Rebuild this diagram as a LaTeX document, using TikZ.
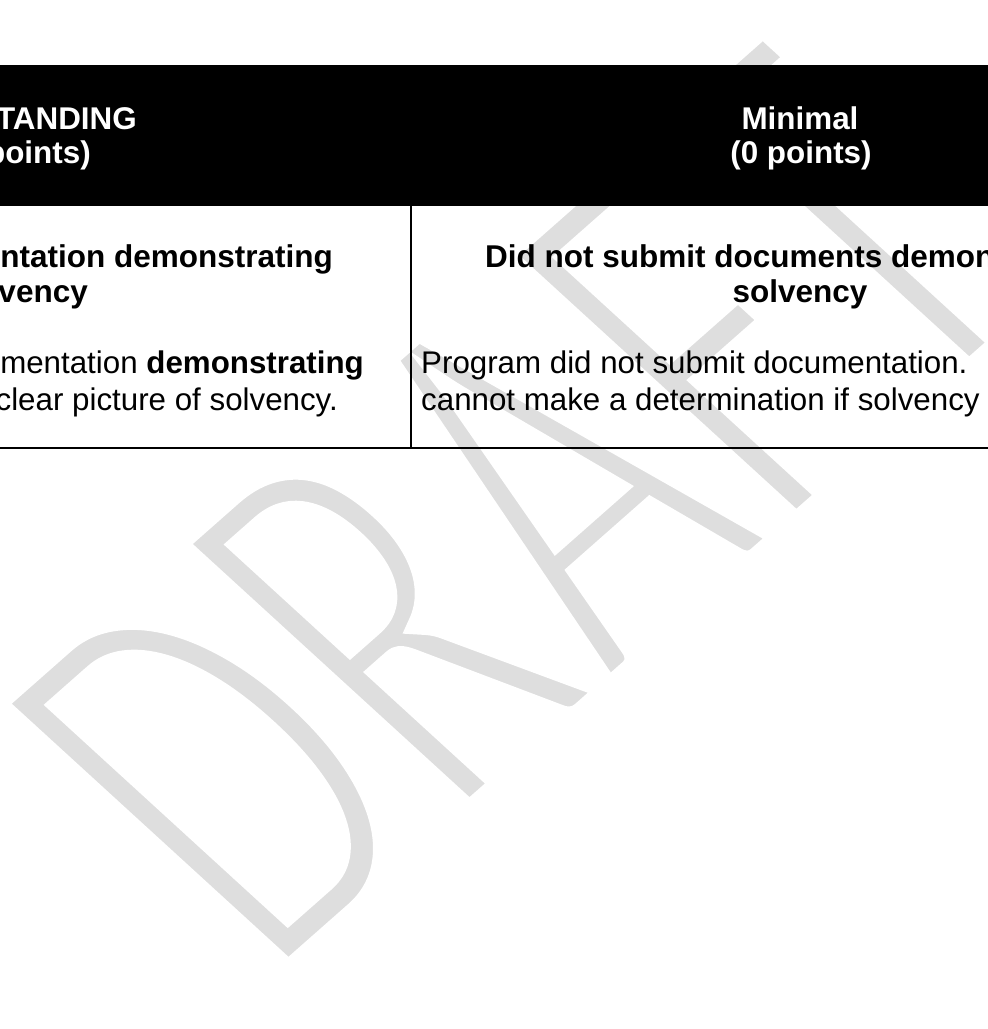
\documentclass[tikz,border=0pt]{standalone}
\usepackage{fontspec}
\setmainfont{Liberation Sans}
\newfontfamily\wmfont{Carlito}
\definecolor{wmgray}{RGB}{222,222,222}
\begin{document}
\begin{tikzpicture}[x=1pt,y=1pt,
  hdr/.style={text=white, font=\fontsize{31.4}{34}\selectfont\bfseries, inner sep=0pt},
  cellb/.style={text=black, font=\fontsize{31.5}{34}\selectfont\bfseries, inner sep=0pt},
  cellr/.style={text=black, font=\fontsize{31.3}{36}\selectfont, inner sep=0pt},
  rule/.style={line width=2pt, draw=black},
  wmark/.style={transform shape, inner sep=0pt, text=wmgray, font=\wmfont\fontsize{100}{100}\selectfont}]
\useasboundingbox (0,0) rectangle (988,-1029);
\fill[white] (0,0) rectangle (988,-1029);
% watermark (filled, then thinned with a white outline stroke)
\begin{scope}[cm={2.925,2.58,-4.57,4.18,(271pt,-987pt)}]
  \node[wmark, anchor=base west] (wm) at (0,0) {DRAFT};
  \node[wmark, text=white, anchor=base west] (wmthin) at (0,0)
    {\special{pdf:literal direct 1 Tr 3.6 w}DRAFT\special{pdf:literal direct 0 Tr}};
\end{scope}
% header band
\fill[black] (-20,-64.5) rectangle (1010,-205.5);
% rules
\coordinate (vtop) at (410.8,-205.5);
\coordinate (vbot) at (410.8,-449);
\coordinate (hl) at (-20,-448);
\coordinate (hr) at (1010,-448);
\draw[rule] (vtop) -- (vbot);
\draw[rule] (hl) -- (hr);
% header texts
\node[hdr, anchor=base east] (h1a) at (137,-129) {OUTSTANDING};
\node[hdr, anchor=base east] (h1b) at (91,-163) {(3 points)};
\node[hdr, anchor=base] (h2a) at (800,-129) {Minimal};
\node[hdr, anchor=base] (h2b) at (801,-163) {(0 points)};
% body texts
\node[cellb, anchor=base east] (b1a) at (333,-267.5) {Submitted documentation demonstrating};
\node[cellb, anchor=base east] (b1b) at (88,-302) {solvency};
\node[cellb, anchor=base west] (b2a) at (485,-267.5) {Did not submit documents demonstrating};
\node[cellb, anchor=base] (b2b) at (800,-302) {solvency};
\node[cellr, anchor=base east] (r1a) at (364,-373.5) {documentation \textbf{demonstrating}};
\node[cellr, anchor=base east] (r1b) at (338,-410) {a clear picture of solvency.};
\node[cellr, anchor=base west] (r2a) at (421,-373.5) {Program did not submit documentation.};
\node[cellr, anchor=base west] (r2b) at (421,-410) {cannot make a determination if solvency};
\end{tikzpicture}
\end{document}
